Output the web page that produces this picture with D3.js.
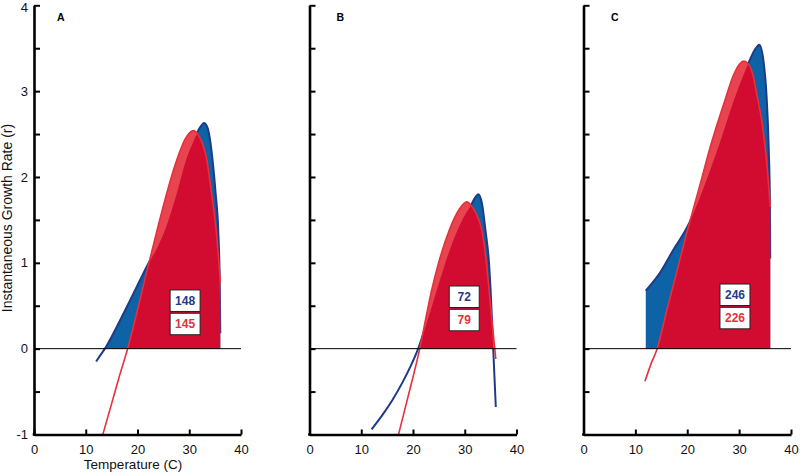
<!DOCTYPE html>
<html><head><meta charset="utf-8">
<script src="https://cdn.jsdelivr.net/npm/d3@7/dist/d3.min.js"></script>
<style>body{margin:0;background:#fff}svg{display:block}</style>
</head><body>
<svg id="chart" width="800" height="475"></svg>
<script>
// ---------- data ----------
const panelNames = ["A", "B", "C"];
const xTickValues = [0, 10, 20, 30, 40];
const yTickValues = [-1, -0.5, 0, 0.5, 1, 1.5, 2, 2.5, 3, 3.5, 4];

const blueTempA = [12, 13, 13.7, 15, 17.3, 20.5, 22, 24, 25.3, 27.6, 29.4, 31, 32, 32.9, 33.6, 34.5, 35.1, 35.6, 35.9, 36];
const blueRateA = [-0.15, -0.06, 0, 0.14, 0.41, 0.80, 0.98, 1.2, 1.38, 1.81, 2.2, 2.44, 2.57, 2.63, 2.56, 2.2, 1.81, 1.38, 0.75, 0.18];
const redTempA  = [13.3, 15, 16.5, 18.1, 20, 21.8, 23.7, 25.6, 27.6, 29.2, 30.8, 31.75, 32.6, 33.4, 34.3, 35.2, 36];
const redRateA  = [-1, -0.64, -0.32, 0, 0.45, 0.9, 1.36, 1.8, 2.2, 2.44, 2.54, 2.49, 2.38, 2.2, 1.81, 1.38, 0.78];

const blueTempB = [12, 14, 16, 18, 19.5, 21, 22.5, 24.6, 26.2, 28.6, 30, 31.2, 32, 32.6, 33.3, 34, 34.7, 35, 35.5, 36];
const blueRateB = [-0.94, -0.78, -0.6, -0.39, -0.21, 0, 0.27, 0.68, 0.99, 1.38, 1.55, 1.67, 1.76, 1.80, 1.7, 1.38, 0.99, 0.68, 0, -0.68];
const redTempB  = [17.2, 19, 21.3, 22.5, 23.6, 24.9, 27, 29, 30.4, 31.2, 32.3, 33.3, 34.2, 34.7, 35.3, 35.8, 36];
const redRateB  = [-1, -0.57, 0, 0.36, 0.68, 0.99, 1.38, 1.63, 1.71, 1.67, 1.56, 1.38, 0.99, 0.68, 0.3, 0, -0.12];

const blueTempC = [12, 14.7, 17.3, 20.2, 21.5, 23, 26, 29.2, 31.75, 33, 33.9, 34.7, 35.3, 35.7, 35.95, 36];
const blueRateC = [0.675, 0.88, 1.15, 1.44, 1.62, 1.85, 2.35, 2.93, 3.32, 3.48, 3.54, 3.35, 2.93, 2.35, 1.64, 1.05];
const redTempC  = [11.85, 13, 14.2, 16, 18, 20, 21.5, 23, 24.2, 25.8, 27.3, 29, 30.9, 31.75, 32.7, 33.5, 34.3, 35, 35.5, 36];
const redRateC  = [-0.38, -0.18, 0, 0.43, 0.9, 1.37, 1.7, 2.03, 2.3, 2.62, 2.9, 3.2, 3.35, 3.32, 3.18, 2.93, 2.68, 2.35, 2.05, 1.65];

const blueTotals = [148, 72, 246];
const redTotals  = [145, 79, 226];

// ---------- layout ----------
const panelX = [[34, 241], [309.5, 516.5], [583.5, 791]];
const plotY = [434.5, 5.3];          // y pixel of r=-1 and r=4
const boxPos = [[29.2, 0.684], [29.9, 0.73], [29.2, 0.753]]; // centre T, top r
const letterX = [57, 336.5, 611];

const COL = {
  blueFill: "#0d63a6", blueLine: "#1f3b87",
  redLight: "#e8444f", redDark: "#d20c31", redLine: "#e6303b"
};
const FONT = "'Liberation Sans', Arial, Helvetica, sans-serif";

const zip = (a, b) => a.map((v, i) => [v, b[i]]);
const blueSeries = [zip(blueTempA, blueRateA), zip(blueTempB, blueRateB), zip(blueTempC, blueRateC)];
const redSeries  = [zip(redTempA, redRateA), zip(redTempB, redRateB), zip(redTempC, redRateC)];

const svg = d3.select("#chart").style("font-family", FONT);
const defs = svg.append("defs");
const y = d3.scaleLinear().domain([-1, 4]).range(plotY);

panelNames.forEach((name, i) => {
  const x = d3.scaleLinear().domain([0, 40]).range(panelX[i]);
  const line = d3.line().x(d => x(d[0])).y(d => y(d[1])).curve(d3.curveMonotoneX);
  const area = d3.area().x(d => x(d[0])).y0(y(0)).y1(d => y(d[1])).curve(d3.curveMonotoneX);

  defs.append("clipPath").attr("id", "pos" + i).append("rect")
    .attr("x", x(0)).attr("y", y(4)).attr("width", x(40) - x(0)).attr("height", y(0) - y(4));
  defs.append("clipPath").attr("id", "blue" + i).append("path").attr("d", area(blueSeries[i]));
  defs.append("clipPath").attr("id", "plot" + i).append("rect")
    .attr("x", x(0) - 2).attr("y", y(4)).attr("width", x(40) - x(0) + 4).attr("height", y(-1) - y(4));

  const g = svg.append("g");

  // fills & lines
  const plot = g.append("g").attr("clip-path", `url(#plot${i})`);
  plot.append("path").attr("d", area(blueSeries[i])).attr("fill", COL.blueFill)
    .attr("clip-path", `url(#pos${i})`);
  plot.append("path").attr("d", line(blueSeries[i])).attr("fill", "none")
    .attr("stroke", COL.blueLine).attr("stroke-width", 2);
  plot.append("path").attr("d", area(redSeries[i])).attr("fill", COL.redLight)
    .attr("clip-path", `url(#pos${i})`);
  plot.append("g").attr("clip-path", `url(#pos${i})`)
    .append("g").attr("clip-path", `url(#blue${i})`)
    .append("path").attr("d", area(redSeries[i])).attr("fill", COL.redDark);
  plot.append("path").attr("d", line(redSeries[i])).attr("fill", "none")
    .attr("stroke", COL.redLine).attr("stroke-width", 1.6);

  // zero line
  g.append("line").attr("x1", x(0)).attr("x2", x(40)).attr("y1", y(0)).attr("y2", y(0))
    .attr("stroke", "#000").attr("stroke-width", 1);

  // axes
  const yAxis = d3.axisLeft(y).tickValues(yTickValues).tickSize(-6).tickSizeOuter(0).tickPadding(6)
    .tickFormat(d => (i === 0 && Number.isInteger(d)) ? d : "");
  const ya = g.append("g").attr("transform", `translate(${x(0)},0)`).call(yAxis);
  const xAxis = d3.axisBottom(x).tickValues(xTickValues).tickSize(-5).tickSizeOuter(0).tickPadding(10);
  const xa = g.append("g").attr("transform", `translate(0,${y(-1)})`).call(xAxis);
  [ya, xa].forEach(a => {
    a.select(".domain").attr("stroke", "#000").attr("stroke-width", 2.6);
    a.selectAll(".tick line").attr("stroke", "#000").attr("stroke-width", 2);
    a.selectAll(".tick text").attr("font-family", FONT).attr("font-size", 13).attr("fill", "#111");
  });
  ya.selectAll(".tick text").filter(d => d === 4).attr("dy", "0.5em");
  // join corner
  g.append("rect").attr("x", x(0) - 1.3).attr("y", y(-1) - 1.3).attr("width", 2.6).attr("height", 2.6).attr("fill", "#000");

  // panel letter
  g.append("text").attr("x", letterX[i]).attr("y", 20.5).text(name)
    .attr("font-weight", "bold").attr("font-size", 10.5).attr("fill", "#000");

  // value boxes
  const bx = x(boxPos[i][0]), by = y(boxPos[i][1]);
  const bw = 30, bh = 21.5, gap = 1.8;
  [[blueTotals[i], COL.blueLine], [redTotals[i], COL.redLine]].forEach(([v, c], k) => {
    const top = by + k * (bh + gap);
    g.append("rect").attr("x", bx - bw / 2).attr("y", top).attr("width", bw).attr("height", bh)
      .attr("fill", "#fff").attr("stroke", "#222").attr("stroke-width", 1);
    g.append("text").attr("x", bx).attr("y", top + bh / 2 + 4.2).attr("text-anchor", "middle")
      .attr("font-weight", "bold").attr("font-size", 12).attr("fill", c).text(v);
  });

  if (i === 0) {
    svg.append("text").attr("transform", `translate(11.5,218) rotate(-90)`).attr("text-anchor", "middle")
      .attr("font-size", 14).attr("fill", "#111").text("Instantaneous Growth Rate (r)");
    svg.append("text").attr("x", 133).attr("y", 469).attr("text-anchor", "middle")
      .attr("font-size", 13.5).attr("fill", "#111").text("Temperature (C)");
  }
});
</script>
</body></html>
